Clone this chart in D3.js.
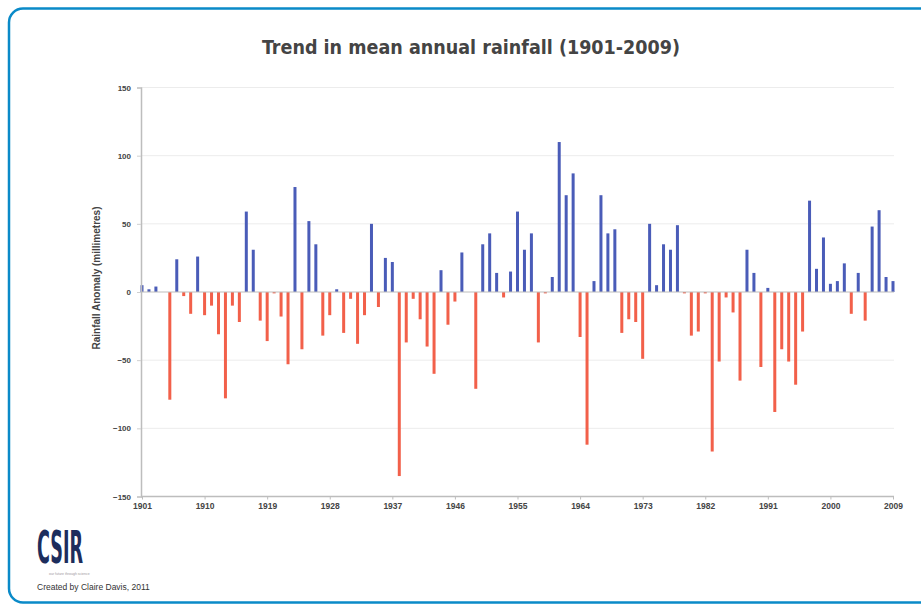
<!DOCTYPE html>
<html>
<head>
<meta charset="utf-8">
<script src="https://cdn.jsdelivr.net/npm/d3@7"></script>
<style>
  html, body { margin: 0; padding: 0; background: #ffffff; }
  svg { display: block; }
</style>
</head>
<body>
<svg id="chart" width="921" height="608"></svg>
<script>
const startYear = 1901;
const endYear = 2009;
const years = d3.range(startYear, endYear + 1);
const anomalies = [
  5, 2, 4, 0, -79, 24, -3, -16, 26, -17,
  -10, -31, -78, -10, -22, 59, 31, -21, -36, -1,
  -18, -53, 77, -42, 52, 35, -32, -17, 2, -30,
  -5, -38, -17, 50, -11, 25, 22, -135, -37, -5,
  -20, -40, -60, 16, -24, -7, 29, 0, -71, 35,
  43, 14, -4, 15, 59, 31, 43, -37, -1, 11,
  110, 71, 87, -33, -112, 8, 71, 43, 46, -30,
  -20, -22, -49, 50, 5, 35, 31, 49, -1, -32,
  -29, -1, -117, -51, -4, -15, -65, 31, 14, -55,
  3, -88, -42, -51, -68, -29, 67, 17, 40, 6,
  8, 21, -16, 14, -21, 48, 60, 11, 8
];
const yTicks = [-150, -100, -50, 0, 50, 100, 150];
const xTickYears = years.filter(y => (y - startYear) % 9 === 0);
const titleText = "Trend in mean annual rainfall (1901-2009)";
const yTitleText = "Rainfall Anomaly (millimetres)";
const creditText = "Created by Claire Davis, 2011";

const data = years.map((yr, i) => ({ year: yr, value: anomalies[i] }));

const svg = d3.select("#chart");

// frame (extends beyond right edge)
svg.append("rect")
  .attr("x", 9).attr("y", 8.5)
  .attr("width", 980).attr("height", 594)
  .attr("rx", 14).attr("ry", 14)
  .attr("fill", "#ffffff")
  .attr("stroke", "#0a8ac8")
  .attr("stroke-width", 2.5);

// title
svg.append("text")
  .attr("x", 471).attr("y", 54)
  .attr("text-anchor", "middle")
  .attr("font-family", "'Liberation Sans Narrow', 'DejaVu Sans Condensed', sans-serif")
  .attr("font-weight", "bold")
  .attr("font-size", 20)
  .attr("fill", "#444444")
  .attr("textLength", 418)
  .attr("lengthAdjust", "spacingAndGlyphs")
  .text(titleText);

const x = d3.scalePoint().domain(years).range([142, 893]).padding(0);
const y = d3.scaleLinear().domain([-150, 150]).range([496.5, 87.5]);

const plotLeft = 141, plotRight = 894;

// gridlines
svg.append("g").selectAll("line")
  .data(yTicks.filter(t => t !== -150 && t !== 0))
  .join("line")
  .attr("x1", plotLeft).attr("x2", plotRight)
  .attr("y1", d => y(d)).attr("y2", d => y(d))
  .attr("stroke", "#ececec")
  .attr("stroke-width", 1);

// bars
svg.append("g").selectAll("rect")
  .data(data)
  .join("rect")
  .attr("x", d => x(d.year) - 1.5)
  .attr("width", 3)
  .attr("y", d => y(Math.max(0, d.value)))
  .attr("height", d => Math.abs(y(d.value) - y(0)))
  .attr("fill", d => d.value >= 0 ? "#4a5cb8" : "#f2604a");

// zero line
svg.append("line")
  .attr("x1", plotLeft).attr("x2", plotRight)
  .attr("y1", y(0)).attr("y2", y(0))
  .attr("stroke", "#bdbdbd").attr("stroke-width", 1.2);

// y axis
const yAxis = svg.append("g")
  .attr("transform", `translate(${plotLeft},0)`)
  .call(d3.axisLeft(y).tickValues(yTicks).tickSize(4).tickPadding(6));
yAxis.select(".domain").attr("stroke", "#bdbdbd").attr("stroke-width", 1.5);
yAxis.selectAll(".tick line").attr("stroke", "#cfcfcf");
yAxis.selectAll("text")
  .attr("font-family", "Arial, 'Liberation Sans', sans-serif")
  .attr("font-size", 8).attr("font-weight", "bold").attr("fill", "#444");

// x axis
const xAxis = svg.append("g")
  .attr("transform", `translate(0,${y(-150)})`)
  .call(d3.axisBottom(x).tickValues(xTickYears).tickSize(3).tickPadding(3));
xAxis.select(".domain").attr("stroke", "#bdbdbd").attr("stroke-width", 1.5)
  .attr("d", `M${plotLeft},0H${plotRight}`);
xAxis.selectAll(".tick line").attr("stroke", "#bdbdbd");
xAxis.selectAll("text")
  .attr("font-family", "'Liberation Sans Narrow', Arial, sans-serif")
  .attr("font-size", 8.5).attr("font-weight", "bold").attr("fill", "#444");

// y title
svg.append("text")
  .attr("transform", `translate(100,${y(0) - 14}) rotate(-90)`)
  .attr("text-anchor", "middle")
  .attr("font-family", "Arial, 'Liberation Sans', sans-serif")
  .attr("font-weight", "bold")
  .attr("font-size", 10)
  .attr("fill", "#444")
  .text(yTitleText);

// CSIR logo
const logo = svg.append("g");
logo.append("text")
  .attr("x", 37).attr("y", 563)
  .attr("font-family", "'Liberation Sans Narrow', 'DejaVu Sans Condensed', sans-serif")
  .attr("font-size", 44)
  .attr("font-weight", "bold")
  .attr("fill", "#1d2d5c")
  .attr("textLength", 46)
  .attr("lengthAdjust", "spacingAndGlyphs")
  .text("CSIR");
logo.append("text")
  .attr("x", 49).attr("y", 575)
  .attr("font-family", "Arial, sans-serif")
  .attr("font-size", 3.5)
  .attr("fill", "#9a9a9a")
  .text("our future through science");
svg.append("text")
  .attr("x", 37).attr("y", 590)
  .attr("font-family", "Arial, 'Liberation Sans', sans-serif")
  .attr("font-size", 8.5)
  .attr("fill", "#333")
  .text(creditText);
</script>
</body>
</html>
